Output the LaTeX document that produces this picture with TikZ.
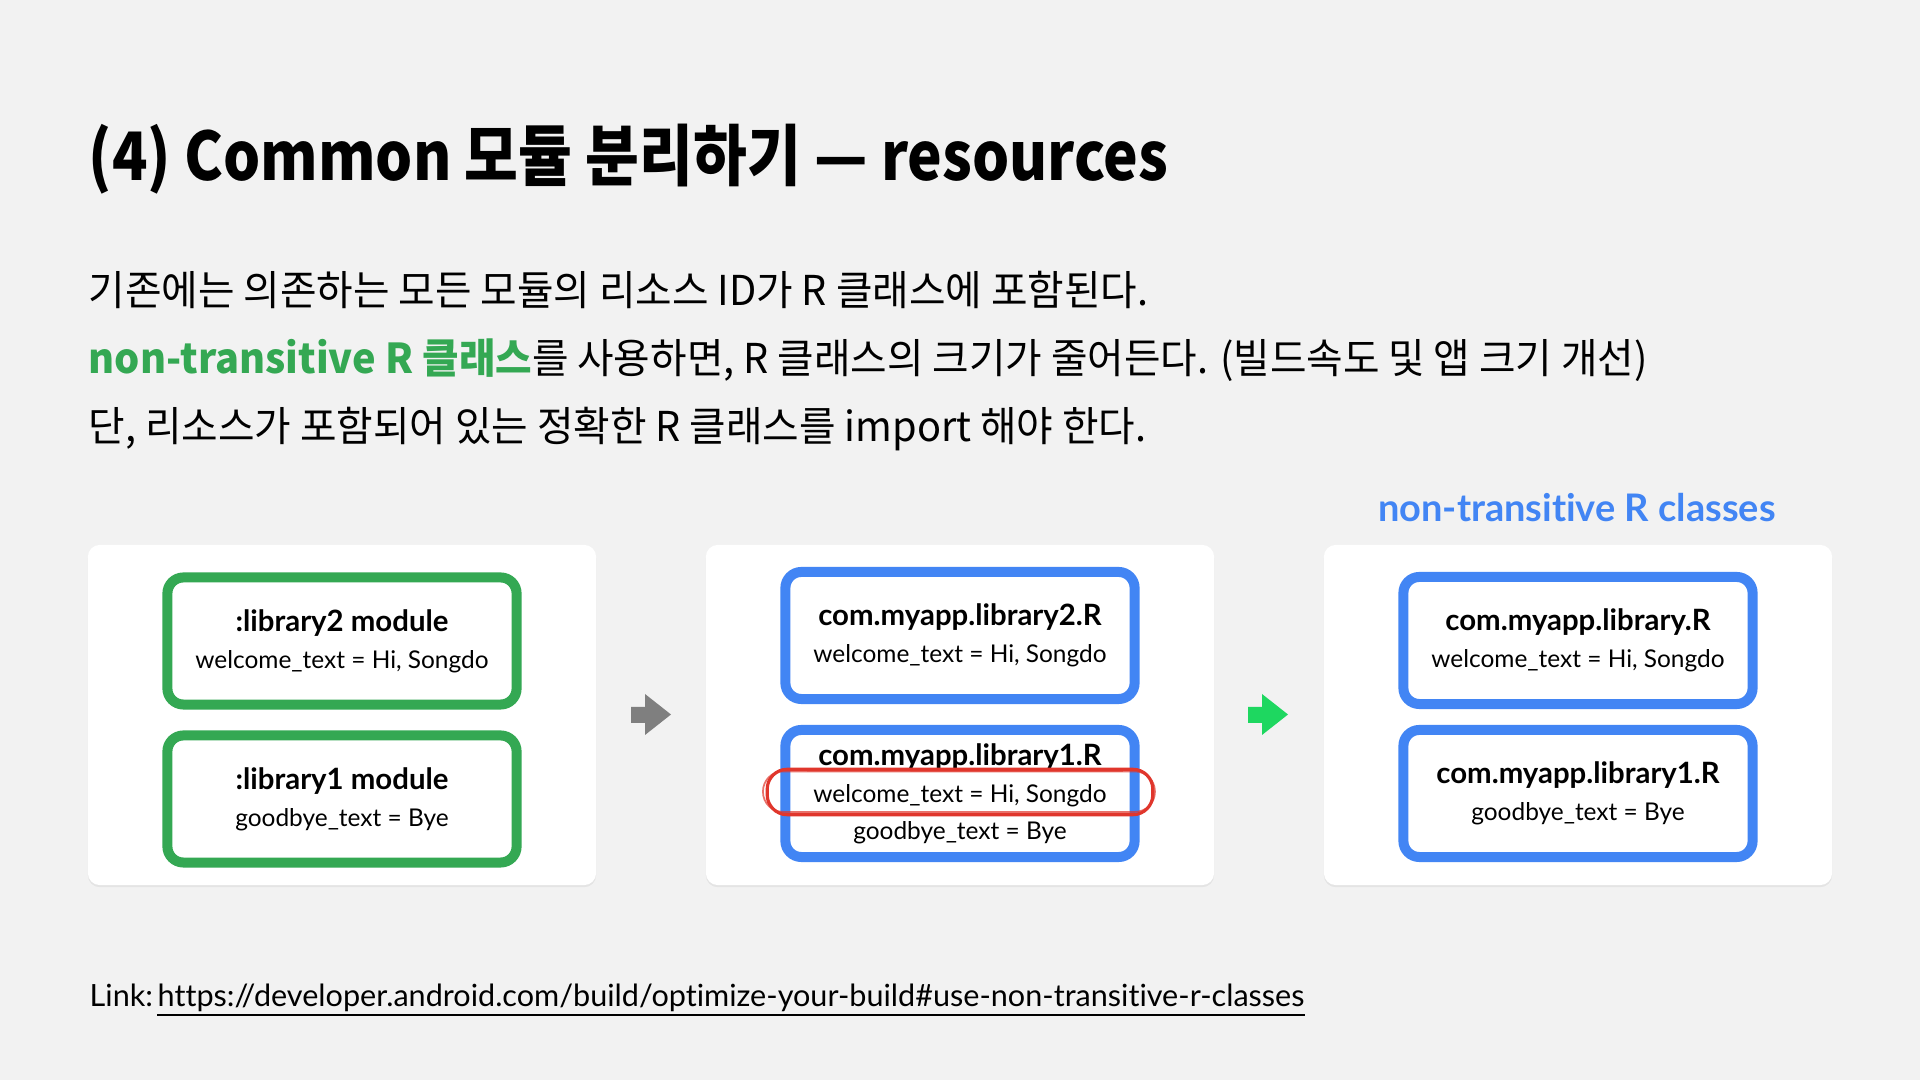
\documentclass[tikz,border=0pt]{standalone}
\usepackage{fontspec}
\newfontfamily\krfont[FakeStretch=0.965]{Noto Sans CJK KR}
\newfontfamily\krtitle[FakeStretch=0.875]{Noto Sans CJK KR}
\newfontfamily\gfont[Ligatures=NoCommon]{Lato}
\usetikzlibrary{positioning,shadows}

\definecolor{slidebg}{HTML}{F2F2F2}
\definecolor{ggreen}{HTML}{34A853}
\definecolor{gblue}{HTML}{4285F4}
\definecolor{arrgray}{HTML}{7F7F7F}
\definecolor{arrgreen}{HTML}{1ED760}
\definecolor{markred}{HTML}{E0362C}

\newcommand{\modhead}[1]{{\bfseries\fontsize{8.35pt}{10.5pt}\selectfont #1}}

\begin{document}
\begin{tikzpicture}[
        x=0.01cm, y=-0.01cm,
        panel/.style={
            rectangle,
            rounded corners=0.12cm,
            fill=white,
            minimum width=5.08cm,
            minimum height=3.4cm,
            drop shadow={shadow xshift=0pt, shadow yshift=-0.6pt, opacity=0.12}
        },
        modbox/.style={
            rectangle,
            rounded corners=0.16cm,
            draw=ggreen,
            line width=0.1cm,
            fill=white,
            minimum width=3.49cm,
            minimum height=1.27cm,
            inner sep=0pt,
            align=center,
            font=\gfont\fontsize{6.95pt}{10.5pt}\selectfont
        },
        rbox/.style={modbox, draw=gblue},
        txtline/.style={anchor=base west, inner sep=0pt, font=\krfont\fontsize{11.7pt}{14pt}\selectfont},
        linktxt/.style={anchor=base west, inner sep=0pt, font=\gfont\fontsize{8.7pt}{10pt}\selectfont},
    ]

        % slide background
        \fill[slidebg] (0,0) rectangle (1920,1080);

        % heading and text
        \node[anchor=base west, inner sep=0pt, font=\krtitle\bfseries\fontsize{19pt}{22pt}\selectfont]
            (title) at (88,181) {(4) Common 모듈 분리하기 — resources};

        \node[txtline] (line1) at (88,306)
            {기존에는 의존하는 모든 모듈의 리소스 ID가 R 클래스에 포함된다.};
        \node[txtline] (line2) at (88,374)
            {\textcolor{ggreen}{\bfseries non-transitive R 클래스}를 사용하면, R 클래스의 크기가 줄어든다. (빌드속도 및 앱 크기 개선)};
        \node[txtline] (line3) at (88,442)
            {단, 리소스가 포함되어 있는 정확한 R 클래스를 import 해야 한다.};

        % three panels
        \foreach \px/\pn in {342/p1, 960/p2, 1578/p3}{
            \node[panel] (\pn) at (\px,715) {};
        }

        \node[anchor=base, inner sep=0pt, text=gblue, font=\gfont\bfseries\fontsize{10.8pt}{12pt}\selectfont]
            (cls) at (1577,522) {non-transitive R classes};

        % modules
        \node[modbox] (lib2) at (342,641) {\modhead{:library2 module}\\welcome\_text = Hi, Songdo};
        \node[modbox] (lib1) at (342,799) {\modhead{:library1 module}\\goodbye\_text = Bye};

        % transitive R classes
        \node[rbox] (r2) at (960,635.5) {\modhead{com.myapp.library2.R}\\welcome\_text = Hi, Songdo};
        \node[rbox] (r1) at (960,793.5)
            {\modhead{com.myapp.library1.R}\\welcome\_text = Hi, Songdo\\goodbye\_text = Bye};

        % non-transitive R classes
        \node[rbox] (nr2) at (1578,640.5) {\modhead{com.myapp.library.R}\\welcome\_text = Hi, Songdo};
        \node[rbox] (nr1) at (1578,793.5) {\modhead{com.myapp.library1.R}\\goodbye\_text = Bye};

        % red mark
        \node[minimum width=3.84cm, minimum height=0.44cm, inner sep=0pt] (mark) at (960,792) {};
        \draw[markred, line width=0.9pt, rounded corners=0.2cm]
            (mark.south west) rectangle (mark.north east);
        \draw[markred, line width=0.5pt, rounded corners=0.2cm, opacity=0.7]
            ([xshift=-1.2pt, yshift=0.8pt]mark.south west) rectangle ([xshift=0.6pt, yshift=-0.6pt]mark.north east);
        \draw[markred, line width=0.6pt, opacity=0.8]
            ([xshift=0.4cm, yshift=-0.3pt]mark.north west) -- ([xshift=-0.3cm, yshift=-0.4pt]mark.north east);

        % block arrows
        \foreach \ax/\col in {631/arrgray, 1248/arrgreen}{
            \fill[\col] (\ax,707) -- ++(14,0) -- ++(0,-13) -- ++(26,20.5) -- ++(-26,20.5)
                -- ++(0,-12) -- ++(-14,0) -- cycle;
        }

        % link
        \node[linktxt] (link) at (89,1007) {Link:};
        \node[linktxt] (url) at (157,1007)
            {https://developer.android.com/build/optimize-your-build\#use-non-transitive-r-classes};
        \draw[line width=0.02cm] ([yshift=-0.08cm]url.base west) -- ([yshift=-0.08cm]url.base east);

    \end{tikzpicture}
\end{document}
